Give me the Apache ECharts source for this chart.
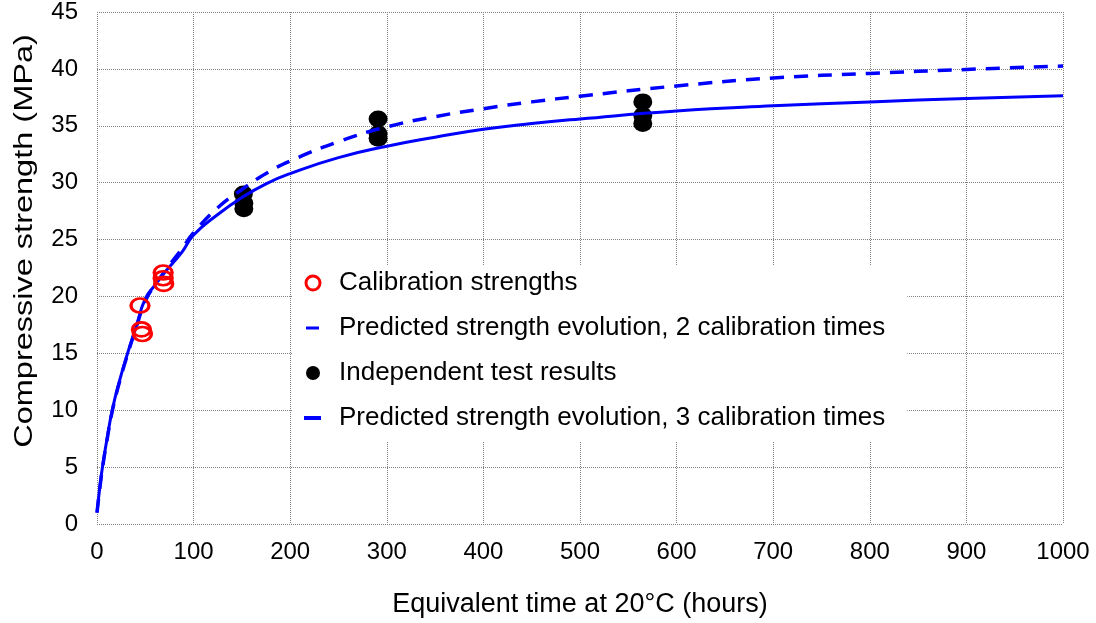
<!DOCTYPE html>
<html>
<head>
<meta charset="utf-8">
<script src="https://cdn.jsdelivr.net/npm/echarts@6/dist/echarts.min.js"></script>
<style>html,body{margin:0;padding:0;background:#fff;}#c{width:1096px;height:623px;}</style>
</head>
<body>
<div id="c"></div>
<script>
// Calibration strengths [hours, MPa]
const calibration = [[44.5,19.2],[46,17.1],[47,16.7],[68.5,22.1],[68.5,21.6],[69,21.1]];
// Independent test results [hours, MPa]
const independent = [[151.5,29.0],[152,28.2],[152,27.7],[291,35.6],[291,34.3],[291,33.9],[565,37.1],[565,35.9],[565,35.2]];
// Predicted strength evolution, 2 calibration times
const pred2 = [[0,1.0],[3,3.2],[6,5.1],[10,7.2],[16,10.0],[24,12.7],[32,15.0],[40,17.1],[50,19.6],[60,21.0],[70,22.2],[88,24.2],[100,25.6],[125,27.8],[150,29.4],[175,30.8],[200,31.9],[250,33.6],[300,34.9],[350,35.8],[400,36.5],[450,37.1],[500,37.6],[600,38.5],[700,39.2],[800,39.6],[900,39.95],[1000,40.25]];
// Predicted strength evolution, 3 calibration times
const pred3 = [[0,1.0],[3,3.3],[6,5.2],[10,7.3],[16,10.1],[24,12.8],[32,15.1],[40,17.2],[50,19.8],[60,21.0],[70,22.1],[88,23.9],[100,25.4],[125,27.2],[150,28.7],[175,29.9],[200,30.8],[250,32.2],[300,33.2],[350,34.0],[400,34.7],[450,35.2],[500,35.6],[600,36.3],[700,36.75],[800,37.1],[900,37.4],[1000,37.65]];

const names = ['Calibration strengths','Predicted strength evolution, 2 calibration times','Independent test results','Predicted strength evolution, 3 calibration times'];
const xTitle = 'Equivalent time at 20°C (hours)';
const yTitle = 'Compressive strength (MPa)';

const FONT = 'Liberation Sans, Arial, sans-serif';
const grid = {lineStyle:{color:'#808080',type:[1,1],width:1}};
// legend dash icons, drawn inside a 42x14 box (tiny corner marks fix the box size)
const corners = 'M0,0L0.01,0L0.01,0.01Z M42,14L41.99,14L41.99,13.99Z ';
const dashThin = 'path://' + corners + 'M14,5.5L27,5.5L27,8.5L14,8.5Z';
const dashThick = 'path://' + corners + 'M12,5L29,5L29,9L12,9Z';
const chart = echarts.init(document.getElementById('c'));
chart.setOption({
  animation:false,
  textStyle:{fontFamily:FONT,color:'#000'},
  grid:{left:97,right:33,top:10,bottom:97,containLabel:false},
  xAxis:{type:'value',min:0,max:1000,interval:100,
    name:xTitle,nameLocation:'middle',nameGap:67,
    nameTextStyle:{fontSize:27,fontFamily:FONT,color:'#000'},
    axisLine:{show:false},axisTick:{show:false},
    axisLabel:{fontSize:24,fontFamily:FONT,color:'#000',margin:16,formatter:v=>String(v)},
    splitLine:Object.assign({show:true,showMinLine:true,showMaxLine:true},grid)},
  yAxis:{type:'value',min:0,max:45,interval:5,
    axisLine:{show:false},axisTick:{show:false},
    axisLabel:{fontSize:24,fontFamily:FONT,color:'#000',margin:19},
    splitLine:Object.assign({show:true,showMinLine:true,showMaxLine:true},grid)},
  graphic:[{type:'text',x:25,y:241,rotation:Math.PI/2,scaleX:1.3,scaleY:1,
    style:{text:yTitle,fontSize:25,fontFamily:FONT,fill:'#000',align:'center',verticalAlign:'middle'}}],
  legend:{
    orient:'vertical',left:292,top:266,
    backgroundColor:'#fff',padding:[4,22,10,0],
    itemWidth:42,itemHeight:14,itemGap:19,
    textStyle:{fontSize:26,fontFamily:FONT,color:'#000',lineHeight:26},
    data:[
      {name:names[0],icon:'circle',itemStyle:{color:'#fff',borderColor:'#ff0000',borderWidth:3}},
      {name:names[1],icon:dashThin,itemStyle:{color:'#0000ff',borderWidth:0},lineStyle:{opacity:0,width:0}},
      {name:names[2],icon:'circle',itemStyle:{color:'#000'}},
      {name:names[3],icon:dashThick,itemStyle:{color:'#0000ff',borderWidth:0},lineStyle:{opacity:0,width:0}}
    ]},
  series:[
    {name:names[1],type:'line',data:pred2,showSymbol:false,smooth:true,z:3,
      lineStyle:{color:'#0000ff',width:3.5,type:[14,10]},itemStyle:{color:'#0000ff'}},
    {name:names[3],type:'line',data:pred3,showSymbol:false,smooth:true,z:3,
      lineStyle:{color:'#0000ff',width:3},itemStyle:{color:'#0000ff'}},
    {name:names[2],type:'scatter',data:independent,symbol:'circle',symbolSize:[19,17],z:2,
      itemStyle:{color:'#000',opacity:1}},
    {name:names[0],type:'scatter',data:calibration,symbol:'circle',symbolSize:[18,14],z:4,
      itemStyle:{color:'rgba(255,255,255,0)',borderColor:'#ff0000',borderWidth:3,opacity:1}}
  ]
});
</script>
</body>
</html>
